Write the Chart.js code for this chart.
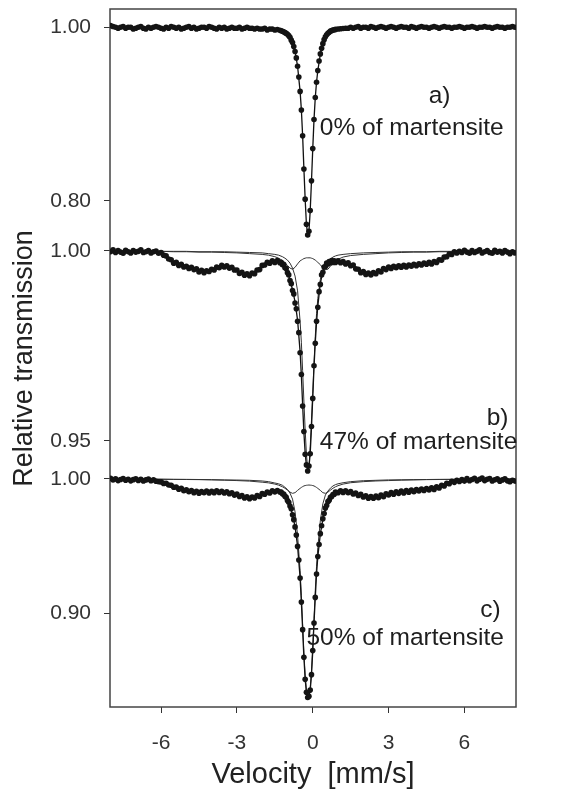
<!DOCTYPE html>
<html>
<head>
<meta charset="utf-8">
<script src="https://cdn.jsdelivr.net/npm/chart.js@4.4.1/dist/chart.umd.min.js"></script>
<style>
  html, body { margin: 0; padding: 0; background: #fff; }
  #wrap { width: 569px; height: 794px; }
</style>
</head>
<body>
<div id="wrap"><canvas id="spectra" width="569" height="794"></canvas></div>
<script>
// measured velocity channels [mm/s] (denser around the central line)
var velocity = [
  -8.0,-7.9,-7.8,-7.7,-7.6,-7.5,-7.4,-7.3,-7.2,-7.1,
  -7.0,-6.9,-6.8,-6.7,-6.6,-6.5,-6.4,-6.3,-6.2,-6.1,
  -6.0,-5.9,-5.8,-5.7,-5.6,-5.5,-5.4,-5.3,-5.2,-5.1,
  -5.0,-4.9,-4.8,-4.7,-4.6,-4.5,-4.4,-4.3,-4.2,-4.1,
  -4.0,-3.9,-3.8,-3.7,-3.6,-3.5,-3.4,-3.3,-3.2,-3.1,
  -3.0,-2.9,-2.8,-2.7,-2.6,-2.5,-2.4,-2.3,-2.2,-2.1,
  -2.0,-1.9,-1.8,-1.7,-1.6,-1.5,-1.4,-1.3,
  -1.25,-1.2,-1.15,-1.1,-1.05,-1.0,-0.95,-0.9,-0.85,-0.8,
  -0.75,-0.7,-0.65,-0.6,-0.55,-0.5,-0.45,-0.4,-0.35,-0.3,
  -0.25,-0.2,-0.15,-0.1,-0.05,0.0,0.05,0.1,0.15,0.2,
  0.25,0.3,0.35,0.4,0.45,0.5,0.55,0.6,0.65,0.7,
  0.75,0.8,0.85,
  0.9,1.0,1.1,1.2,1.3,1.4,1.5,1.6,1.7,1.8,
  1.9,2.0,2.1,2.2,2.3,2.4,2.5,2.6,2.7,2.8,
  2.9,3.0,3.1,3.2,3.3,3.4,3.5,3.6,3.7,3.8,
  3.9,4.0,4.1,4.2,4.3,4.4,4.5,4.6,4.7,4.8,
  4.9,5.0,5.1,5.2,5.3,5.4,5.5,5.6,5.7,5.8,
  5.9,6.0,6.1,6.2,6.3,6.4,6.5,6.6,6.7,6.8,
  6.9,7.0,7.1,7.2,7.3,7.4,7.5,7.6,7.7,7.8,
  7.9,8.0
];

// a) 0% of martensite
var transA = [
  1.002,1.001,1.000,0.999,1.000,1.001,0.999,1.000,1.000,0.998,
  0.999,1.000,1.001,0.999,0.998,1.000,0.999,1.000,1.001,1.000,
  0.999,0.998,1.000,0.999,1.001,1.000,0.999,1.000,0.998,0.999,
  1.000,1.001,0.999,1.000,0.998,0.999,1.000,1.000,0.999,1.001,
  1.000,0.999,0.998,1.000,0.999,1.000,0.998,0.999,1.000,0.999,
  0.999,1.000,0.998,0.999,1.000,0.999,0.999,0.998,0.999,0.998,
  0.998,0.999,0.997,0.998,0.998,0.997,0.9975,0.9965,
  0.9960,0.9955,0.9948,0.9941,0.9930,0.9921,0.9904,0.9886,0.9852,0.9826,
  0.9778,0.9722,0.9648,0.9552,0.9428,0.9262,0.9048,0.8752,0.8368,0.8021,
  0.7732,0.7608,0.7652,0.7889,0.8232,0.8603,0.8938,0.9192,0.9368,0.9503,
  0.9612,0.9694,0.9758,0.9812,0.9858,0.9891,0.9914,0.9932,0.9944,0.9956,
  0.9962,0.9968,0.9972,
  0.9976,0.998,0.9984,0.9987,0.999,0.999,1.000,0.999,1.000,1.001,
  0.999,1.000,1.000,0.999,1.001,1.000,0.999,1.000,1.001,1.000,
  0.999,1.000,1.001,1.000,0.999,1.000,1.001,1.000,1.000,0.999,
  1.001,1.000,0.999,1.000,1.001,1.000,1.000,0.999,1.000,1.001,
  1.000,0.999,1.000,1.001,1.000,1.000,0.999,1.000,1.000,1.001,
  1.000,0.999,1.000,1.000,1.001,1.000,0.999,1.000,1.000,1.001,
  1.000,1.000,0.999,1.000,1.001,1.000,1.000,0.999,1.000,1.000,
  1.001,1.000
];

// b) 47% of martensite
var transB = [
  0.9998,1.0003,0.9996,1.0001,0.9997,0.9994,1.0002,0.9998,0.9995,1.0001,
  0.9997,0.9999,1.0003,0.9996,0.9998,1.0001,0.9995,0.9998,1.0000,0.9994,
  0.9996,0.9989,0.9987,0.9979,0.9977,0.9968,0.9970,0.9962,0.9965,0.9958,
  0.9960,0.9954,0.9957,0.9951,0.9953,0.9945,0.9949,0.9943,0.9948,0.9946,
  0.9952,0.9950,0.9958,0.9956,0.9962,0.9958,0.9961,0.9955,0.9957,0.9950,
  0.9950,0.9941,0.9944,0.9936,0.9940,0.9935,0.9942,0.9940,0.9950,0.9951,
  0.9962,0.9963,0.9970,0.9968,0.9974,0.9970,0.9975,0.9969,
  0.9970,0.9964,0.9965,0.9956,0.9954,0.9943,0.9937,0.9922,0.9914,0.9896,
  0.9887,0.9863,0.9848,0.9815,0.9785,0.9732,0.9675,0.9592,0.9525,0.9465,
  0.9437,0.9421,0.9434,0.9466,0.9538,0.9612,0.9698,0.9757,0.9815,0.9852,
  0.9893,0.9912,0.9937,0.9944,0.9958,0.9959,0.9968,0.9966,0.9972,0.9969,
  0.9975,0.9970,0.9974,
  0.9970,0.9974,0.9969,0.9972,0.9966,0.9969,0.9961,0.9963,0.9953,0.9952,
  0.9943,0.9946,0.9938,0.9942,0.9937,0.9943,0.9940,0.9948,0.9945,0.9954,
  0.9951,0.9958,0.9954,0.9960,0.9956,0.9961,0.9957,0.9962,0.9958,0.9963,
  0.9960,0.9965,0.9961,0.9966,0.9963,0.9968,0.9965,0.9970,0.9966,0.9972,
  0.9970,0.9977,0.9976,0.9984,0.9985,0.9992,0.9991,0.9998,0.9995,0.9999,
  0.9996,1.0002,0.9997,0.9994,1.0001,0.9996,0.9999,1.0003,0.9995,0.9998,
  1.0001,0.9996,0.9994,1.0002,0.9997,0.9999,0.9995,1.0001,0.9997,0.9993,
  0.9998,0.9995
];

// c) 50% of martensite
var transC = [
  1.0005,0.9992,1.0001,0.9988,0.9996,1.0003,0.9990,0.9998,0.9986,0.9995,
  1.0002,0.9989,0.9997,0.9985,0.9993,0.9999,0.9987,0.9994,0.9983,0.9979,
  0.9978,0.9967,0.9968,0.9955,0.9953,0.9938,0.9940,0.9924,0.9930,0.9913,
  0.9920,0.9905,0.9914,0.9898,0.9908,0.9894,0.9906,0.9897,0.9910,0.9896,
  0.9909,0.9898,0.9912,0.9899,0.9908,0.9895,0.9905,0.9890,0.9897,0.9880,
  0.9887,0.9870,0.9876,0.9858,0.9868,0.9853,0.9866,0.9858,0.9876,0.9870,
  0.9891,0.9886,0.9903,0.9895,0.9912,0.9904,0.9914,0.9903,
  0.9902,0.9890,0.9887,0.9872,0.9863,0.9840,0.9826,0.9798,0.9778,0.9733,
  0.9697,0.9643,0.9582,0.9498,0.9397,0.9262,0.9083,0.8878,0.8672,0.8508,
  0.8412,0.8373,0.8382,0.8428,0.8543,0.8722,0.8928,0.9118,0.9292,0.9423,
  0.9512,0.9593,0.9652,0.9703,0.9743,0.9783,0.9802,0.9831,0.9842,0.9863,
  0.9869,0.9884,0.9886,
  0.9902,0.9898,0.9911,0.9900,0.9912,0.9897,0.9906,0.9888,0.9895,0.9877,
  0.9885,0.9866,0.9875,0.9857,0.9870,0.9856,0.9873,0.9860,0.9880,0.9868,
  0.9890,0.9881,0.9898,0.9887,0.9905,0.9893,0.9910,0.9896,0.9913,0.9901,
  0.9917,0.9905,0.9921,0.9910,0.9925,0.9914,0.9929,0.9918,0.9934,0.9922,
  0.9942,0.9933,0.9953,0.9948,0.9968,0.9965,0.9983,0.9975,0.9990,0.9981,
  0.9995,0.9984,1.0003,0.9987,0.9996,1.0005,0.9986,0.9998,1.0006,0.9988,
  0.9997,1.0004,0.9985,0.9994,1.0002,0.9983,0.9993,1.0001,0.9986,0.9980,
  0.9991,0.9984
];

// velocities where the fitted curves were read
var fitVelocity = [
  -8.0,-7.5,-7.0,-6.5,-6.0,-5.5,-5.0,-4.5,-4.0,-3.5,-3.0,-2.5,-2.0,
  -1.75,-1.5,-1.35,-1.2,-1.1,-1.0,-0.9,-0.8,-0.7,-0.6,-0.5,
  -0.45,-0.4,-0.35,-0.3,-0.25,-0.2,-0.15,-0.1,-0.05,0.0,0.05,0.1,0.15,0.2,
  0.3,0.4,0.5,0.6,0.7,0.8,0.9,1.0,1.2,1.5,
  2.0,2.5,3.0,3.5,4.0,4.5,5.0,5.5,6.0,6.5,7.0,7.5,8.0
];

var fitA = [
  1.0,1.0,1.0,1.0,1.0,1.0,1.0,1.0,1.0,1.0,1.0,0.9995,0.999,
  0.9985,0.9978,0.9968,0.9955,0.9941,0.9921,0.9886,0.9826,0.9722,0.9552,0.9262,
  0.905,0.875,0.837,0.802,0.773,0.761,0.765,0.789,0.823,0.860,0.894,0.919,0.937,0.950,
  0.969,0.981,0.989,0.993,0.9956,0.9968,0.9976,0.998,0.9987,0.9992,
  0.9995,0.9997,0.9998,1.0,1.0,1.0,1.0,1.0,1.0,1.0,1.0,1.0,1.0
];

var fitB = [
  0.9998,0.9998,0.9998,0.9998,0.9998,0.997,0.9958,0.9948,0.995,0.996,0.9948,0.9938,0.996,
  0.9969,0.9972,0.9971,0.9966,0.9958,0.9945,0.9924,0.9898,0.9866,0.9818,0.9735,
  0.9672,0.9595,0.9522,0.9468,0.9435,0.9423,0.9432,0.9468,0.9535,0.9615,0.9695,0.976,0.9812,0.9855,
  0.9915,0.9946,0.9961,0.9968,0.9971,0.9972,0.9972,0.9972,0.997,0.9964,
  0.9943,0.9943,0.9956,0.9959,0.9963,0.9967,0.9975,0.9993,0.9998,0.9998,0.9998,0.9998,0.9998
];
var singletB = [
  0.9999,0.9999,0.9999,0.9999,0.9999,0.9999,0.9999,0.9998,0.9998,0.9998,0.9997,0.9996,0.9995,
  0.9993,0.9991,0.9989,0.9985,0.9981,0.9976,0.9968,0.9955,0.9934,0.9895,0.9815,
  0.976,0.9685,0.9605,0.953,0.9465,0.9428,0.9429,0.9485,0.9555,0.9625,0.9705,0.9775,0.9835,0.9875,
  0.9925,0.995,0.9964,0.9974,0.9979,0.9984,0.9987,0.9989,0.9991,0.9993,
  0.9995,0.9996,0.9997,0.9998,0.9998,0.9998,0.9999,0.9999,0.9999,0.9999,0.9999,0.9999,0.9999
];
var doubletB = [
  1.0,1.0,0.9999,0.9999,0.9999,0.9998,0.9998,0.9997,0.9997,0.9996,0.9995,0.9993,0.9991,
  0.9989,0.9985,0.9981,0.9975,0.9969,0.9962,0.9955,0.9952,0.9957,0.9966,0.9974,
  0.9976,0.9978,0.998,0.9981,0.9982,0.9982,0.9982,0.9982,0.9981,0.998,0.9978,0.9976,0.9973,0.997,
  0.9964,0.9955,0.9951,0.9952,0.996,0.9968,0.9973,0.9978,0.9984,0.9988,
  0.9991,0.9993,0.9995,0.9996,0.9997,0.9997,0.9998,0.9998,0.9999,0.9999,0.9999,1.0,1.0
];

var fitC = [
  0.9995,0.9993,0.999,0.9988,0.9975,0.9942,0.9915,0.9902,0.9904,0.9902,0.9882,0.986,0.9885,
  0.99,0.991,0.9909,0.9893,0.9875,0.9842,0.980,0.9735,0.9645,0.950,0.9265,
  0.908,0.888,0.867,0.851,0.841,0.8375,0.838,0.843,0.854,0.872,0.893,0.9115,0.9295,0.942,
  0.959,0.970,0.978,0.9828,0.986,0.9882,0.9897,0.9902,0.9906,0.990,
  0.9872,0.9866,0.9888,0.9902,0.9912,0.9922,0.994,0.9976,0.999,0.999,0.999,0.999,0.999
];
var singletC = [
  0.9999,0.9999,0.9999,0.9998,0.9998,0.9997,0.9997,0.9996,0.9995,0.9993,0.9992,0.999,0.9985,
  0.998,0.997,0.9964,0.9953,0.9938,0.9922,0.9895,0.985,0.9755,0.958,0.932,
  0.913,0.892,0.871,0.854,0.8425,0.838,0.8385,0.8445,0.857,0.875,0.896,0.917,0.935,0.949,
  0.969,0.9815,0.988,0.991,0.9932,0.9948,0.9958,0.9964,0.9972,0.998,
  0.9987,0.999,0.9993,0.9994,0.9995,0.9996,0.9997,0.9997,0.9998,0.9998,0.9999,0.9999,0.9999
];
var doubletC = [
  1.0,1.0,0.9999,0.9999,0.9998,0.9997,0.9996,0.9995,0.9993,0.9991,0.9988,0.9984,0.9976,
  0.9971,0.9962,0.9954,0.9942,0.9931,0.9917,0.9902,0.9893,0.9898,0.9915,0.993,
  0.9937,0.9943,0.9948,0.9951,0.9953,0.9954,0.9955,0.9954,0.9953,0.9951,0.9948,0.9943,0.9937,0.993,
  0.9915,0.9898,0.9893,0.9902,0.9917,0.9931,0.9942,0.995,0.9962,0.9972,
  0.998,0.9985,0.9988,0.9991,0.9993,0.9995,0.9996,0.9997,0.9998,0.9999,0.9999,1.0,1.0
];

var velocityTicks = [-6, -3, 0, 3, 6];
var ticksA = [0.80, 1.00];
var ticksB = [0.95, 1.00];
var ticksC = [0.90, 1.00];

var panelNotes = [
  { text: 'a)', x: 5.45, y: 0.9128, axis: 'yA', align: 'right' },
  { text: '0% of martensite', x: 0.28, y: 0.876, axis: 'yA', align: 'left' },
  { text: 'b)', x: 7.74, y: 0.9542, axis: 'yB', align: 'right' },
  { text: '47% of martensite', x: 0.28, y: 0.9478, axis: 'yB', align: 'left' },
  { text: 'c)', x: 7.43, y: 0.8975, axis: 'yC', align: 'right' },
  { text: '50% of martensite', x: -0.25, y: 0.8764, axis: 'yC', align: 'left' }
];

function toPoints(xs, ys) {
  return xs.map(function (x, i) { return { x: x, y: ys[i] }; });
}

function dots(ys, axis) {
  return {
    data: toPoints(velocity, ys), yAxisID: axis, showLine: false,
    pointRadius: 2.8, pointHoverRadius: 2.8, pointBorderWidth: 0,
    backgroundColor: '#141414', borderColor: '#141414'
  };
}
function curve(ys, axis, width, color) {
  return {
    data: toPoints(fitVelocity, ys), yAxisID: axis, showLine: true,
    pointRadius: 0, borderWidth: width, borderColor: color, fill: false, tension: 0
  };
}

// the label overflow padding would push the plot area down; the frame is fixed here instead
function noPadding(s) {
  s.paddingTop = 0; s.paddingBottom = 0; s.paddingLeft = 0; s.paddingRight = 0;
}

function yScale(min, max, ticks, weight, title) {
  return {
    type: 'linear', position: 'left', stack: 'panels', stackWeight: weight,
    min: min, max: max,
    afterBuildTicks: function (s) { s.ticks = ticks.map(function (v) { return { value: v }; }); },
    afterFit: function (s) { s.width = 110; noPadding(s); },
    grid: { drawOnChartArea: false, drawTicks: true, tickLength: 6, color: '#333' },
    border: { display: false },
    ticks: {
      padding: 13, color: '#333', font: { size: 21 },
      callback: function (v) { return Number(v).toFixed(2); }
    },
    title: title ? {
      display: true, text: title, color: '#222', font: { size: 27 },
      padding: { top: 8, bottom: 0 }
    } : { display: false }
  };
}

var framePlugin = {
  id: 'frame',
  beforeDatasetsDraw: function (chart) {
    var a = chart.chartArea, ctx = chart.ctx;
    ctx.save();
    ctx.strokeStyle = '#444';
    ctx.lineWidth = 1.5;
    ctx.strokeRect(a.left, a.top, a.right - a.left, a.bottom - a.top);
    ctx.restore();
  },
  afterDatasetsDraw: function (chart) {
    var ctx = chart.ctx;
    ctx.save();
    ctx.fillStyle = '#1e1e1e';
    ctx.font = '24.5px "Liberation Sans", Arial, sans-serif';
    ctx.textBaseline = 'alphabetic';
    panelNotes.forEach(function (n) {
      ctx.textAlign = n.align;
      ctx.fillText(n.text, chart.scales.x.getPixelForValue(n.x), chart.scales[n.axis].getPixelForValue(n.y));
    });
    ctx.restore();
  }
};

Chart.defaults.font.family = '"Liberation Sans", Arial, sans-serif';

var chart = new Chart(document.getElementById('spectra'), {
  type: 'scatter',
  data: {
    datasets: [
      dots(transA, 'yA'), dots(transB, 'yB'), dots(transC, 'yC'),
      curve(fitA, 'yA', 1.3, '#111'),
      curve(fitB, 'yB', 1.3, '#111'),
      curve(fitC, 'yC', 1.3, '#111'),
      curve(singletB, 'yB', 1, '#333'),
      curve(doubletB, 'yB', 1, '#333'),
      curve(singletC, 'yC', 1, '#333'),
      curve(doubletC, 'yC', 1, '#333')
    ]
  },
  options: {
    responsive: false,
    animation: false,
    devicePixelRatio: 1,
    layout: { padding: { top: 9, right: 53, bottom: 0, left: 0 } },
    plugins: { legend: { display: false }, tooltip: { enabled: false } },
    scales: {
      x: {
        type: 'linear', position: 'bottom', min: -8.02, max: 8.04,
        afterBuildTicks: function (s) { s.ticks = velocityTicks.map(function (v) { return { value: v }; }); },
        afterFit: function (s) { s.height = 87; noPadding(s); },
        grid: { drawOnChartArea: false, drawTicks: true, tickLength: 6, color: '#333' },
        border: { display: false },
        ticks: { padding: 18, color: '#333', font: { size: 21 }, autoSkip: false, maxRotation: 0 },
        title: { display: true, text: 'Velocity  [mm/s]', color: '#222', font: { size: 29 }, padding: { top: 0, bottom: 2 } }
      },
      yC: yScale(0.8302, 1.0037, ticksC, 233),
      yB: yScale(0.9413, 1.0021, ticksB, 231, 'Relative transmission'),
      yA: yScale(0.7516, 1.0211, ticksA, 234)
    }
  },
  plugins: [framePlugin]
});
</script>
</body>
</html>
